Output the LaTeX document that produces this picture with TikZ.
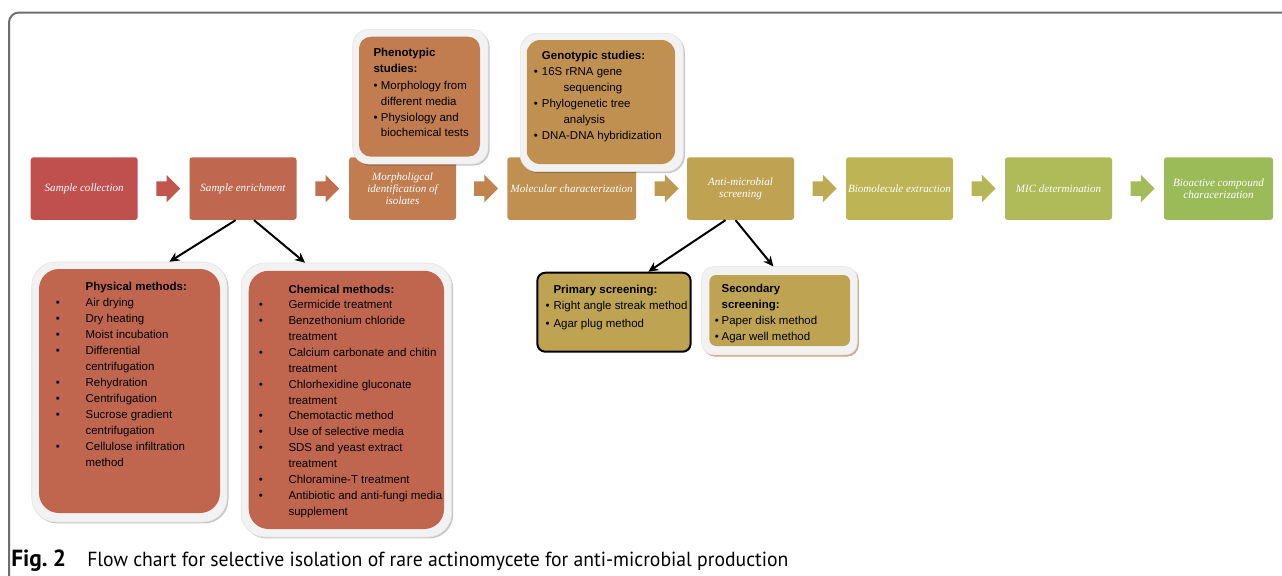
\documentclass[tikz,border=0pt]{standalone}
\usepackage{fontspec}
\setmainfont{Liberation Serif}
\newfontfamily\arialf{Liberation Sans}
\newfontfamily\capf{PT Sans}
\usetikzlibrary{shapes.arrows,shadows,arrows.meta}
\definecolor{cA}{HTML}{C0504D}
\definecolor{cB}{HTML}{C0674F}
\definecolor{cC}{HTML}{C17C4F}
\definecolor{cD}{HTML}{C09050}
\definecolor{cE}{HTML}{BFA252}
\definecolor{cF}{HTML}{BCB455}
\definecolor{cG}{HTML}{AEBB58}
\definecolor{cH}{HTML}{9BBB59}
\definecolor{listA}{HTML}{C0664F}
\definecolor{scr}{HTML}{BEA452}
\definecolor{frameF}{HTML}{F2F2F2}
\definecolor{frameD}{HTML}{E2E2E2}
\definecolor{frameLine}{HTML}{6E6E6E}
\definecolor{tanShadow}{HTML}{D8A88C}
\newcommand\mybul{\textbullet}
\begin{document}
\begin{tikzpicture}[x=0.75pt,y=-0.75pt,
  flow/.style={rectangle, rounded corners=2pt, minimum width=80.25pt, minimum height=46.9pt,
    inner sep=1pt, align=center, text=white, font=\fontsize{8.3}{9}\selectfont\itshape},
  flowarrow/.style={single arrow, minimum height=18pt, minimum width=20.25pt,
    single arrow head extend=4.9pt, inner xsep=0pt, inner ysep=5.25pt, draw=none},
  outer/.style={rectangle, fill=frameF, draw=frameD, line width=0.4pt,
    drop shadow={shadow xshift=1.1pt, shadow yshift=-1.1pt, fill=black, opacity=0.22}},
  inner/.style={rectangle, draw=none},
  listtext/.style={anchor=base west, inner sep=0pt, align=left, text=black},
  blk/.style={-{Stealth[length=7.5pt,width=7pt]}, line width=1.5pt, black}
]
\clip (0,0) rectangle (1282,575);
\fill[white] (0,0) rectangle (1282,575);
\draw[line width=1.5pt, draw=frameLine, rounded corners=7.5pt] (9,620) -- (9,12.5) -- (1320,12.5);

% main flow
\node[flow, fill=cA] (sc) at (84.2,188.6) {Sample collection};
\node[flow, fill=cB] (se) at (243,188.6) {Sample enrichment};
\node[flow, fill=cC] (mi) at (402.5,188.6) {Morpholigcal\\identification of\\isolates};
\node[flow, fill=cD, minimum width=96.5pt] (mc) at (571.7,188.6) {Molecular characterization};
\node[flow, fill=cE] (am) at (740.5,188.6) {Anti-microbial\\screening};
\node[flow, fill=cF] (be) at (899.5,188.6) {Biomolecule extraction};
\node[flow, fill=cG] (md) at (1058.5,188.6) {MIC determination};
\node[flow, fill=cH, minimum width=81.75pt] (bc) at (1218.5,188.6) {Bioactive compound\\characerization};

\node[flowarrow, fill=cA!75!cB] (ar1) at (164.7,188.6) {};
\node[flowarrow, fill=cB!60!cC] (ar2) at (323.7,188.6) {};
\node[flowarrow, fill=cC!60!cD] (ar3) at (482.5,188.6) {};
\node[flowarrow, fill=cD!50!cE] (ar4) at (663,188.6) {};
\node[flowarrow, fill=cE!50!cF] (ar5) at (821,188.6) {};
\node[flowarrow, fill=cF!50!cG] (ar6) at (980,188.6) {};
\node[flowarrow, fill=cG!50!cH] (ar7) at (1139,188.6) {};

% phenotypic
\node[outer, rounded corners=12pt, minimum width=101.5pt, minimum height=101pt] (phO) at (420.4,96.7) {};
\node[inner, fill=cC, rounded corners=9pt, minimum width=90.75pt, minimum height=90pt] (phI) at (419.5,96.7) {};
\node[listtext, font=\arialf\fontsize{8.6}{11.8}\selectfont] (phT) at (373.3,56.3) {%
\begin{tabular}[t]{@{}p{5.5pt}@{}l@{}}
\multicolumn{2}{@{}l@{}}{\textbf{Phenotypic}}\\
\multicolumn{2}{@{}l@{}}{\textbf{studies:}}\\[1.4pt]
\mybul & Morphology from\\
 & different media\\
\mybul & Physiology and\\
 & biochemical tests
\end{tabular}};

% genotypic
\node[outer, rounded corners=13pt, minimum width=122.5pt, minimum height=103.8pt] (geO) at (601.7,102.5) {};
\node[inner, fill=cD, rounded corners=10pt, minimum width=111.2pt, minimum height=93pt] (geI) at (600.9,102) {};
\node[listtext, font=\arialf\fontsize{8.6}{12}\selectfont] (geT) at (533.7,59) {%
\begin{tabular}[t]{@{}p{6pt}@{}l@{}}
 & \textbf{Genotypic studies:}\\
\mybul & 16S rRNA gene\\
 & \hspace{16.2pt}sequencing\\
\mybul & Phylogenetic tree\\
 & \hspace{16.2pt}analysis\\
\mybul & DNA-DNA hybridization
\end{tabular}};

% physical
\node[outer, rounded corners=18pt, minimum width=146.5pt, minimum height=195pt] (physO) at (129.4,392) {};
\node[inner, fill=listA, rounded corners=15pt, minimum width=135.75pt, minimum height=183pt] (physI) at (129.5,391) {};
\node[listtext, font=\arialf\fontsize{8.6}{12}\selectfont] (physT) at (55.5,290.7) {%
\begin{tabular}[t]{@{}p{22.4pt}@{}l@{}}
 & \textbf{Physical methods:}\\
\mybul & Air drying\\
\mybul & Dry heating\\
\mybul & Moist incubation\\
\mybul & Differential\\
 & centrifugation\\
\mybul & Rehydration\\
\mybul & Centrifugation\\
\mybul & Sucrose gradient\\
 & centrifugation\\
\mybul & Cellulose infiltration\\
 & method
\end{tabular}};

% chemical
\node[outer, rounded corners=18pt, minimum width=158pt, minimum height=205.5pt] (chemO) at (346.4,400) {};
\node[inner, fill=listA, rounded corners=15pt, minimum width=146.5pt, minimum height=193.7pt] (chemI) at (346.4,399.9) {};
\node[listtext, font=\arialf\fontsize{8.6}{11.9}\selectfont] (chemT) at (258.7,293) {%
\begin{tabular}[t]{@{}p{22.2pt}@{}l@{}}
 & \textbf{Chemical methods:}\\
\mybul & Germicide treatment\\
\mybul & Benzethonium chloride\\
 & treatment\\
\mybul & Calcium carbonate and chitin\\
 & treatment\\
\mybul & Chlorhexidine gluconate\\
 & treatment\\
\mybul & Chemotactic method\\
\mybul & Use of selective media\\
\mybul & SDS and yeast extract\\
 & treatment\\
\mybul & Chloramine-T treatment\\
\mybul & Antibiotic and anti-fungi media\\
 & supplement
\end{tabular}};

% primary screening
\node[rectangle, fill=scr, draw=black, line width=1.5pt, rounded corners=6pt,
  minimum width=115pt, minimum height=59.25pt] (prim) at (614,312.2) {};
\node[listtext, font=\arialf\fontsize{8.6}{12}\selectfont] (primT) at (545.3,293.3) {%
\begin{tabular}[t]{@{}p{6pt}@{}l@{}}
 & \textbf{Primary screening:}\\
\mybul & Right angle streak method\\[1.5pt]
\mybul & Agar plug method
\end{tabular}};

% secondary screening
\node[outer, drop shadow={shadow xshift=1.1pt, shadow yshift=-1.3pt, fill=tanShadow, opacity=1},
  rounded corners=9pt, minimum width=116.7pt, minimum height=66.2pt] (secO) at (779.5,310.8) {};
\node[inner, fill=scr, rounded corners=5pt, minimum width=105.5pt, minimum height=53.25pt] (secI) at (779.7,310.5) {};
\node[listtext, font=\arialf\fontsize{8.6}{12}\selectfont] (secT) at (714.7,292.3) {%
\begin{tabular}[t]{@{}p{5pt}@{}l@{}}
 & \textbf{Secondary}\\
 & \textbf{screening:}\\
\mybul & Paper disk method\\
\mybul & Agar well method
\end{tabular}};

% black connectors
\draw[blk] ([xshift=-5.5pt]se.south) -- ([xshift=30pt]physO.north);
\draw[blk] ([xshift=8.25pt]se.south) -- ([xshift=-31pt]chemO.north);
\draw[blk] ([xshift=-11.25pt]am.south) -- ([xshift=25.7pt]prim.north);
\draw[blk] ([xshift=-3.75pt]am.south) -- ([xshift=-4.65pt]secO.north);

% caption
\node[anchor=base west, inner sep=0pt, font=\capf\bfseries\fontsize{17.5}{18}\selectfont] (figl) at (11,566) {Fig.\hspace{4pt}2};
\node[anchor=base west, inner sep=0pt, font=\capf\fontsize{15.3}{18}\selectfont] (capt) at (87,566) {\scalebox{0.965}[1]{Flow chart for selective isolation of rare actinomycete for anti-microbial production}};
\end{tikzpicture}
\end{document}
